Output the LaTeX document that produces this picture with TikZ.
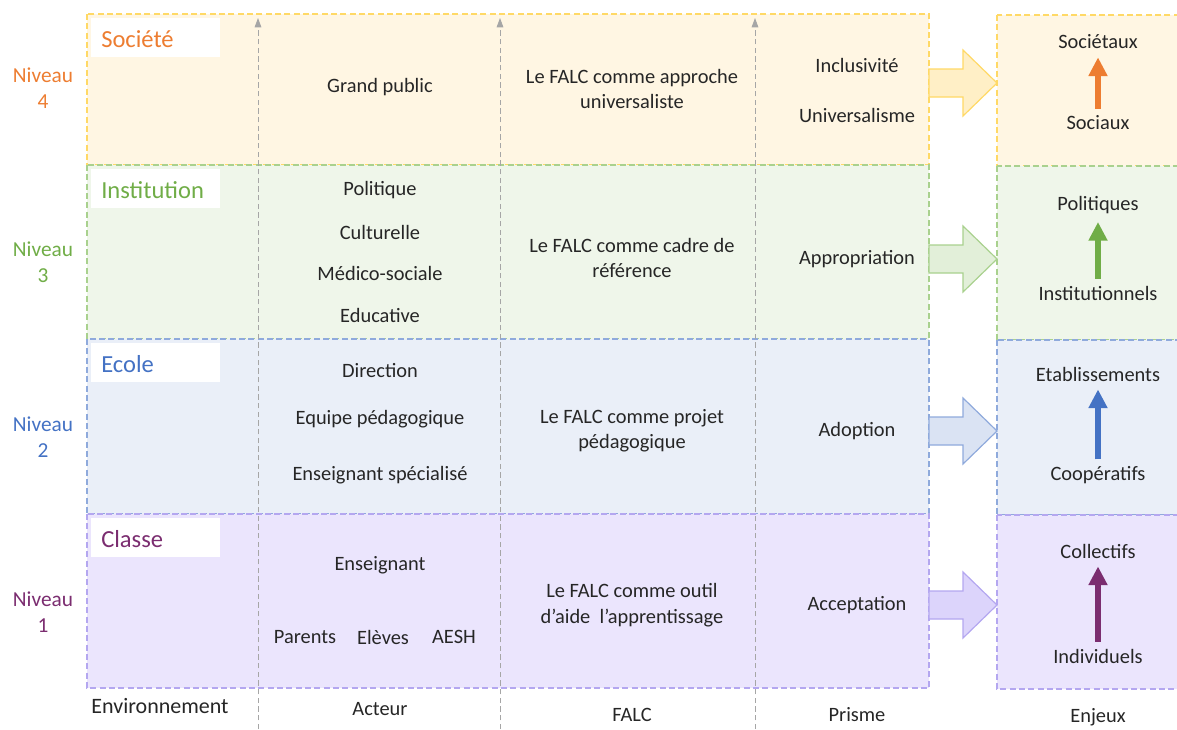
\documentclass[tikz,border=0pt]{standalone}
\usepackage{fontspec}
\setmainfont{Carlito}
\usetikzlibrary{positioning,arrows.meta,calc}

\definecolor{txtcol}{HTML}{262626}
\definecolor{axecol}{HTML}{A6A6A6}
\definecolor{c4T}{HTML}{ED7D31}\definecolor{c4F}{HTML}{FFF6E3}\definecolor{c4B}{HTML}{FFD966}\definecolor{c4A}{HTML}{FFEFC6}
\definecolor{c3T}{HTML}{70AD47}\definecolor{c3F}{HTML}{EFF6EA}\definecolor{c3B}{HTML}{A9D18E}\definecolor{c3A}{HTML}{E2EFD9}
\definecolor{c2T}{HTML}{4472C4}\definecolor{c2F}{HTML}{EAEFF8}\definecolor{c2B}{HTML}{8FAADC}\definecolor{c2A}{HTML}{DAE3F3}
\definecolor{c1T}{HTML}{7B2D70}\definecolor{c1F}{HTML}{EBE5FD}\definecolor{c1B}{HTML}{B4A7F0}\definecolor{c1A}{HTML}{DCD4FB}

\begin{document}
\begin{tikzpicture}[x=0.75pt,y=-0.75pt,
  every node/.style={inner sep=0pt},
  txt/.style={font=\fontsize{15.3}{19}\selectfont, text=txtcol, align=center},
  niv/.style={font=\fontsize{16}{19.5}\selectfont, align=center},
  titre/.style={font=\fontsize{18.4}{22}\selectfont, anchor=west},
  cadre/.style={dash pattern=on 4.5pt off 2.5pt, line width=0.9pt},
  axe/.style={draw=axecol, dash pattern=on 4pt off 2.5pt, line width=0.6pt, -{Triangle[width=5pt,length=7pt]}},
  monte/.style={line width=5.2pt, -{Triangle[width=13.5pt,length=14pt]}, shorten <=5pt, shorten >=6pt},
]
\useasboundingbox (0,0) rectangle (1177,729);

\foreach \n/\t/\b/\nom/\ny/\fy in {4/14/165/Société/88/83, 3/165/339/Institution/262/259, 2/339/514/Ecole/437/431, 1/514/688/Classe/612/605}{
  \filldraw[cadre, fill=c\n F, draw=c\n B] (87,\t) rectangle (929,\b);
  \filldraw[cadre, fill=c\n F, draw=c\n B] (997,\t+1) rectangle (1180,\b+1);
  \fill[white] (91,\t+4) rectangle (220,\t+43);
  \node[titre, text=c\n T] (titre\n) at (101,\t+25) {\nom};
  \node[niv, text=c\n T] (niv\n) at (43,\ny) {Niveau\\\n};
  \filldraw[fill=c\n A, draw=c\n B, line width=0.9pt]
    (929,\fy-14) -- (963,\fy-14) -- (963,\fy-33) -- (997,\fy) -- (963,\fy+33) -- (963,\fy+14) -- (929,\fy+14) -- cycle;
}

\foreach \i/\x in {1/258,2/500,3/755}{
  \coordinate (bas\i) at (\x,729);
  \coordinate (haut\i) at (\x,18);
  \draw[axe] (bas\i) -- (haut\i);
}

\node[txt] (grandpublic) at (380,87) {Grand public};
\node[txt] (politique) at (380,190) {Politique};
\node[txt] (culturelle) at (380,232) {Culturelle};
\node[txt] (medico) at (380,273) {Médico-sociale};
\node[txt] (educative) at (380,315) {Educative};
\node[txt] (direction) at (380,371) {Direction};
\node[txt] (equipe) at (380,419) {Equipe pédagogique};
\node[txt] (specialise) at (380,475) {Enseignant spécialisé};
\node[txt] (enseignant) at (380,565) {Enseignant};
\node[txt] (parents) at (305,637) {Parents};
\node[txt] (eleves) at (383,637) {Elèves};
\node[txt] (aesh) at (454,637) {AESH};

\node[txt] (falc4) at (632,89) {Le FALC comme approche\\universaliste};
\node[txt] (falc3) at (632,258) {Le FALC comme cadre de\\référence};
\node[txt] (falc2) at (632,431) {Le FALC comme projet\\pédagogique};
\node[txt] (falc1) at (632,605) {Le FALC comme outil\\d’aide\ \ l’apprentissage};

\node[txt] (inclusivite) at (857,65) {Inclusivité};
\node[txt] (universalisme) at (857,115) {Universalisme};
\node[txt] (appropriation) at (857,259) {Appropriation};
\node[txt] (adoption) at (857,431) {Adoption};
\node[txt] (acceptation) at (857,605) {Acceptation};

\node[txt] (societaux) at (1098,42) {Sociétaux};
\node[txt] (sociaux) at (1098,123) {Sociaux};
\node[txt] (politiques) at (1098,205) {Politiques};
\node[txt] (institutionnels) at (1098,293) {Institutionnels};
\node[txt] (etablissements) at (1098,374) {Etablissements};
\node[txt] (cooperatifs) at (1098,475) {Coopératifs};
\node[txt] (collectifs) at (1098,551) {Collectifs};
\node[txt] (individuels) at (1098,656) {Individuels};

\draw[monte, draw=c4T] (sociaux) -- (societaux);
\draw[monte, draw=c3T] (institutionnels) -- (politiques);
\draw[monte, draw=c2T] (cooperatifs) -- (etablissements);
\draw[monte, draw=c1T] (individuels) -- (collectifs);

\node[txt, font=\fontsize{16.5}{19}\selectfont] (environnement) at (160,706) {Environnement};
\node[txt] (acteur) at (380,709) {Acteur};
\node[txt] (falc) at (632,715) {FALC};
\node[txt] (prisme) at (857,715) {Prisme};
\node[txt] (enjeux) at (1098,717) {Enjeux};
\end{tikzpicture}
\end{document}
